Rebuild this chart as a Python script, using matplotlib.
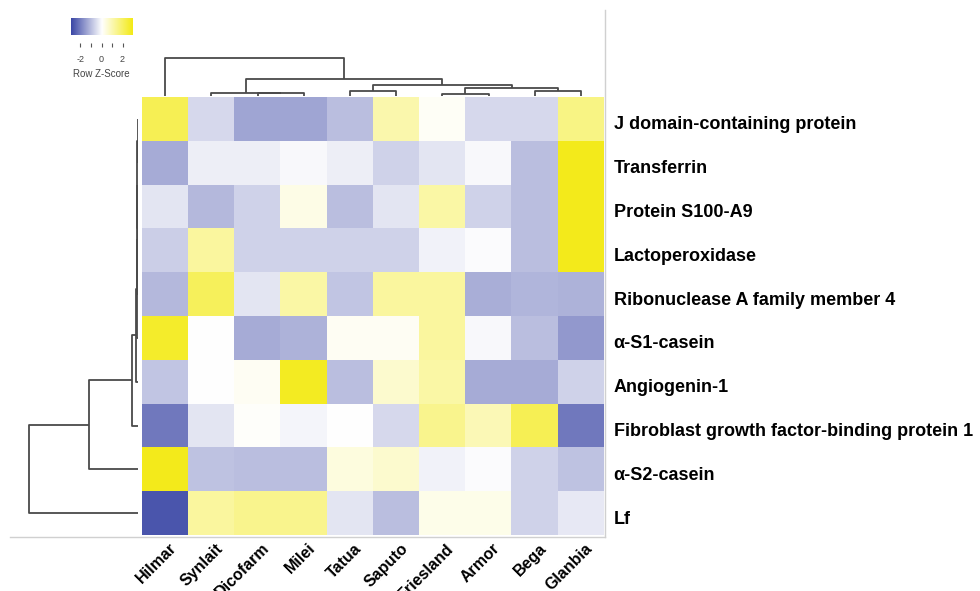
import numpy as np
import matplotlib
matplotlib.use("Agg")
import matplotlib.pyplot as plt
import matplotlib.transforms as mtransforms
from matplotlib.colors import LinearSegmentedColormap, Normalize
from matplotlib.lines import Line2D

plt.rcParams['font.family'] = ['Liberation Sans', 'DejaVu Sans']

# data
suppliers = ['Hilmar', 'Synlait', 'Dicofarm', 'Milei', 'Tatua',
             'Saputo', 'Friesland', 'Armor', 'Bega', 'Glanbia']
proteins = ['J domain-containing protein', 'Transferrin', 'Protein S100-A9',
            'Lactoperoxidase', 'Ribonuclease A family member 4', 'α-S1-casein',
            'Angiogenin-1', 'Fibroblast growth factor-binding protein 1',
            'α-S2-casein', 'Lf']

z_j_domain = [2.1, -0.6, -1.4, -1.4, -1.0, 1.0, 0.1, -0.6, -0.6, 1.5]
z_transferrin = [-1.3, -0.25, -0.25, -0.1, -0.25, -0.7, -0.4, -0.1, -1.0, 2.8]
z_s100a9 = [-0.4, -1.1, -0.7, 0.3, -1.0, -0.4, 1.1, -0.7, -1.0, 2.8]
z_lactoperox = [-0.75, 1.2, -0.7, -0.7, -0.7, -0.7, -0.2, -0.05, -1.0, 2.8]
z_ribonuc = [-1.1, 2.0, -0.4, 1.1, -0.9, 1.2, 1.2, -1.25, -1.15, -1.2]
z_as1 = [2.6, 0.0, -1.3, -1.2, 0.15, 0.15, 1.2, -0.1, -1.0, -1.6]
z_angiogenin = [-0.9, 0.0, 0.15, 2.7, -1.0, 0.6, 1.1, -1.3, -1.3, -0.7]
z_fgfbp1 = [-2.1, -0.4, 0.05, -0.15, 0.0, -0.6, 1.4, 0.9, 2.1, -2.1]
z_as2 = [2.8, -0.95, -1.0, -1.0, 0.4, 0.6, -0.2, -0.05, -0.7, -0.95]
z_lf = [-2.65, 1.2, 1.4, 1.4, -0.4, -1.0, 0.25, 0.25, -0.7, -0.35]

# dendrogram merges: (left, right, height); ids >= n refer to earlier merges
col_merges = [(2, 3, 2.6), (1, 10, 3.3), (4, 5, 5.3), (6, 7, 2.0),
              (8, 9, 5.0), (13, 14, 7.7), (12, 15, 11.0), (11, 16, 17.0),
              (0, 17, 38.0)]
row_merges = [(0, 1, 0.3), (2, 3, 0.3), (10, 11, 0.6), (4, 12, 0.9),
              (5, 13, 1.3), (6, 14, 2.3), (7, 15, 6.3), (8, 16, 49.0),
              (9, 17, 109.0)]

key_ticks = [-2, -1, 0, 1, 2]
key_labels = ['-2', '', '0', '', '2']

Z = np.array([z_j_domain, z_transferrin, z_s100a9, z_lactoperox, z_ribonuc,
              z_as1, z_angiogenin, z_fgfbp1, z_as2, z_lf])

W, H = 980, 591
fig = plt.figure(figsize=(W / 100, H / 100), dpi=100)


def px_axes(left, top, right, bottom):
    return fig.add_axes([left / W, 1 - bottom / H, (right - left) / W, (bottom - top) / H])


cmap = LinearSegmentedColormap.from_list('bwy', ['#3a46a5', '#ffffff', '#f3ea14'])
norm = Normalize(vmin=-2.9, vmax=2.9)

# heatmap
ax = px_axes(142, 97, 604, 535)
ax.imshow(Z, cmap=cmap, norm=norm, aspect='auto', extent=[0, 10, 10, 0],
          interpolation='nearest')
ax.set_xlim(0, 10)
ax.set_ylim(10, 0)
ax.set_xticks(np.arange(10) + 0.5)
ax.set_xticklabels(suppliers, rotation=45, ha='right', rotation_mode='anchor',
                   fontsize=11.5, fontweight='bold')
ax.set_yticks(np.arange(10) + 0.5)
ax.set_yticklabels(proteins, fontsize=13, fontweight='bold')
ax.yaxis.tick_right()
ax.tick_params(length=0, pad=7)
ax.tick_params(axis='x', pad=4)
for s in ax.spines.values():
    s.set_visible(False)

shift_x = mtransforms.ScaledTranslation(4 / 100, 0, fig.dpi_scale_trans)
for lab in ax.get_xticklabels():
    lab.set_transform(lab.get_transform() + shift_x)
shift_y = mtransforms.ScaledTranslation(0, -4 / 100, fig.dpi_scale_trans)
for lab in ax.get_yticklabels():
    lab.set_transform(lab.get_transform() + shift_y)


def draw_dendro(axd, merges, n, orient):
    pos = {i: i + 0.5 for i in range(n)}
    hgt = {i: 0.0 for i in range(n)}
    for k, (a, b, h) in enumerate(merges):
        xa, xb = pos[a], pos[b]
        p = [xa, xa, xb, xb]
        q = [hgt[a], h, h, hgt[b]]
        if orient == 'top':
            axd.plot(p, q, color='#4a4a4a', lw=1.3, solid_capstyle='butt')
        else:
            axd.plot(q, p, color='#4a4a4a', lw=1.3, solid_capstyle='butt')
        pos[n + k] = (xa + xb) / 2
        hgt[n + k] = h


axc = px_axes(142, 18, 604, 96)
draw_dendro(axc, col_merges, 10, 'top')
axc.set_xlim(0, 10)
axc.set_ylim(0, 78)
axc.axis('off')

axr = px_axes(10, 97, 138, 535)
draw_dendro(axr, row_merges, 10, 'left')
axr.set_xlim(128, 0)
axr.set_ylim(10, 0)
axr.axis('off')

# frame lines
fig.add_artist(Line2D([605 / W, 605 / W], [1 - 10 / H, 1 - 537 / H],
                      color='#d0d0d0', lw=1))
fig.add_artist(Line2D([10 / W, 605 / W], [1 - 537 / H, 1 - 537 / H],
                      color='#d0d0d0', lw=1))

# color key: bar on top, tick axis a little below it
axk = px_axes(71, 18, 132, 43)
grad = np.linspace(-2.9, 2.9, 256)[None, :]
axk.imshow(grad, cmap=cmap, norm=norm, aspect='auto', extent=[-2.9, 2.9, 0.32, 1])
axk.set_xlim(-2.9, 2.9)
axk.set_ylim(0, 1)
axk.set_yticks([])
axk.set_xticks(key_ticks)
axk.set_xticklabels(key_labels, fontsize=6.5, color='#444444')
axk.tick_params(axis='x', length=3, width=0.8, pad=6, color='#555555')
for s in axk.spines.values():
    s.set_visible(False)
axk.set_xlabel('Row Z-Score', fontsize=7, color='#444444', labelpad=3)

fig.savefig('out.png', dpi=100)
